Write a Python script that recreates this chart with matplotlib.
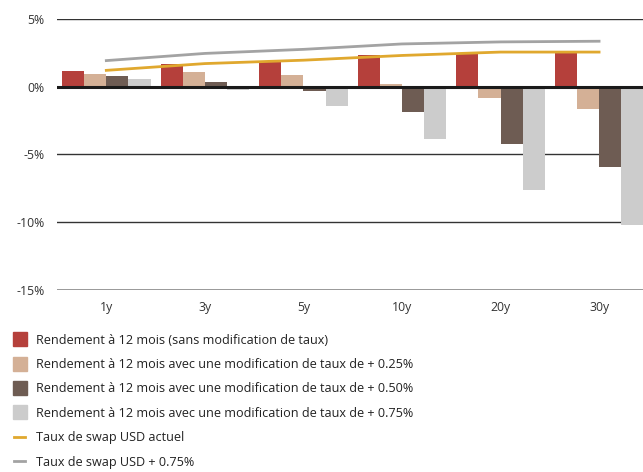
import matplotlib.pyplot as plt
import numpy as np
from matplotlib.lines import Line2D

plt.rcParams['font.family'] = ['Open Sans', 'DejaVu Sans']

categories = ["1y", "3y", "5y", "10y", "20y", "30y"]

# 12-month returns (%)
ret_base = [1.15, 1.7, 1.92, 2.3, 2.5, 2.5]
ret_025 = [0.96, 1.05, 0.86, 0.2, -0.86, -1.63]
ret_050 = [0.79, 0.37, -0.3, -1.84, -4.2, -5.9]
ret_075 = [0.59, -0.27, -1.4, -3.9, -7.6, -10.2]

# swap rates (%)
swap_now = [1.2, 1.7, 1.95, 2.3, 2.55, 2.55]
swap_075 = [1.92, 2.45, 2.75, 3.15, 3.3, 3.35]

labels = [
    "Rendement à 12 mois (sans modification de taux)",
    "Rendement à 12 mois avec une modification de taux de + 0.25%",
    "Rendement à 12 mois avec une modification de taux de + 0.50%",
    "Rendement à 12 mois avec une modification de taux de + 0.75%",
    "Taux de swap USD actuel",
    "Taux de swap USD + 0.75%",
]
bar_colors = ["#b5403b", "#d4b096", "#6e5c53", "#cccccc"]
line_colors = ["#e0a82e", "#a3a3a3"]

fig = plt.figure(figsize=(6.43, 4.72), dpi=100)
ax = fig.add_axes([0.0887, 0.386, 0.915, 0.574])

x = np.arange(len(categories))
w = 0.225
series = [ret_base, ret_025, ret_050, ret_075]
for i, (vals, c) in enumerate(zip(series, bar_colors)):
    ax.bar(x + (i - 1.5) * w, vals, width=w, color=c, zorder=2)

ax.plot(x, swap_now, color=line_colors[0], lw=2, zorder=3)
ax.plot(x, swap_075, color=line_colors[1], lw=2, zorder=3)

ax.set_ylim(-15, 5)
ax.set_xlim(-0.5, 5.47)
ax.set_yticks([-15, -10, -5, 0, 5])
ax.set_yticklabels(["-15%", "-10%", "-5%", "0%", "5%"])
for yv in [-10, -5, 5]:
    ax.axhline(yv, color="#333333", lw=1, zorder=1)
ax.axhline(-15, color="#888888", lw=1.2, zorder=1)
ax.axhline(0, color="#1a1a1a", lw=2.2, zorder=4)
ax.set_xticks(x)
ax.set_xticklabels(categories)
for s in ax.spines.values():
    s.set_visible(False)
ax.tick_params(length=0, labelsize=8.8, colors="#333333")
ax.tick_params(axis="y", pad=9)
ax.tick_params(axis="x", pad=8)

handles = [Line2D([], [], marker="s", ls="", ms=9.5, color=c) for c in bar_colors]
handles += [Line2D([], [], color=c, lw=2) for c in line_colors]
fig.legend(handles, labels, loc="upper left", bbox_to_anchor=(0.0218, 0.293),
           frameon=False, fontsize=9.1, handlelength=0.9, handletextpad=0.84,
           labelspacing=0.9, borderpad=0, borderaxespad=0, labelcolor="#222222")

fig.savefig("out.png", dpi=100)
